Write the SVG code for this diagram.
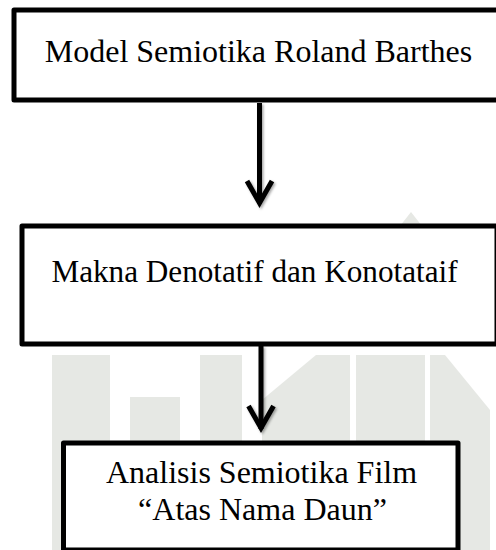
<svg xmlns="http://www.w3.org/2000/svg" width="496" height="550" viewBox="0 0 496 550">
<style>
.box{fill:#fff;stroke:#000;stroke-width:5;stroke-linejoin:round}
.lbl{font-family:"Liberation Serif","Times New Roman",serif;font-size:32px;fill:#000;text-anchor:middle}
.wm{fill:#e6e8e4;stroke:none}
.conn{stroke:#000;stroke-width:5;fill:none}
.head{stroke:#000;stroke-width:5;fill:none;stroke-linejoin:miter}
</style>
<defs>
<filter id="sh" x="-50%" y="-50%" width="200%" height="200%">
<feDropShadow dx="1.5" dy="1.5" stdDeviation="1.2" flood-color="#000" flood-opacity="0.35"/>
</filter>
<path id="chev" class="head" d="M-12.5,-22 L0,0 L12.5,-22"/>
</defs>
<g id="watermark">
<polygon class="wm" points="400,226 411,212 422,226"/>
<rect class="wm" x="52" y="355" width="58" height="195"/>
<rect class="wm" x="130" y="397" width="50" height="153"/>
<rect class="wm" x="200" y="355" width="42" height="195"/>
<polygon class="wm" points="262,440 262,400 316,355 350,355 350,550 262,550"/>
<rect class="wm" x="356" y="355" width="69" height="195"/>
<polygon class="wm" points="430,355 445,355 490,410 490,550 430,550"/>
</g>
<g id="connectors" filter="url(#sh)">
<line class="conn" x1="259.5" y1="103" x2="259.5" y2="204"/>
<use href="#chev" x="259.5" y="203"/>
<line class="conn" x1="261" y1="346" x2="261" y2="429"/>
<use href="#chev" x="261" y="428"/>
</g>
<g id="node1">
<rect class="box" x="14" y="10" width="495" height="90"/>
<text class="lbl" x="258.5" y="62">Model Semiotika Roland Barthes</text>
</g>
<g id="node2">
<rect class="box" x="22" y="226" width="475" height="118"/>
<text class="lbl" x="254.5" y="282" style="font-size:31.2px">Makna Denotatif dan Konotataif</text>
</g>
<g id="node3">
<rect class="box" x="63.5" y="443" width="394.5" height="107"/>
<text class="lbl" x="261.5" y="483">Analisis Semiotika Film</text>
<text class="lbl" x="262.5" y="520">“Atas Nama Daun”</text>
</g>
</svg>
